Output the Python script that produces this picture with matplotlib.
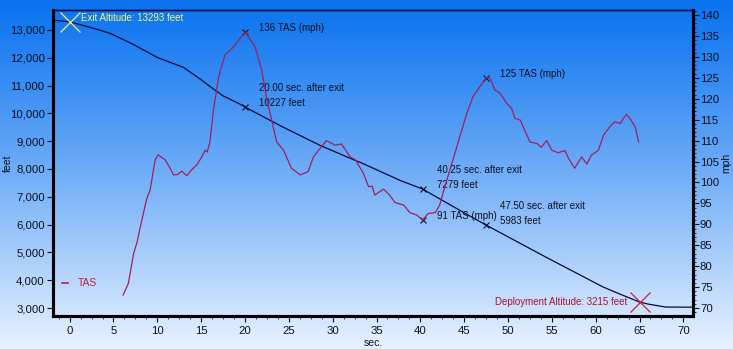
import numpy as np
import matplotlib
matplotlib.use("Agg")
import matplotlib.pyplot as plt
from matplotlib.ticker import MultipleLocator, FuncFormatter, AutoMinorLocator

plt.rcParams['font.family'] = ['Liberation Sans', 'DejaVu Sans']

# ---------------- data ----------------
alt_t = [-1.9, 0, 2.7, 4.6, 7.2, 10, 13, 14.9, 16.4, 17.5, 19.4, 20, 24, 28.6, 32.6,
         33.1, 37.7, 40.25, 44.5, 47.5, 54.4, 60.8, 62.4, 65, 66, 68, 71.1]
alt_ft = [13350, 13293, 13060, 12880, 12490, 12010, 11650, 11230, 10875, 10630, 10337,
          10227, 9560, 8842, 8305, 8244, 7588, 7279, 6513, 5983, 4817, 3763, 3548,
          3215, 3140, 3035, 3030]

tas_t = [6.1, 6.7, 7.3, 7.66, 8.23, 8.8, 9.18, 9.75, 10.1, 10.9, 11.46, 11.84, 12.3, 12.8,
         13.36, 13.9, 14.5, 15.07, 15.45, 15.7, 16.0, 16.4, 17.0, 17.7, 18.7, 20.0,
         21.15, 21.9, 22.5, 23.05, 23.6, 24.4, 25.3, 26.3, 27.2, 27.8, 28.4, 29.3, 30.3,
         31.0, 32.0, 32.6, 33.5, 34.1, 34.5, 34.8, 35.8, 36.5, 37.1, 38.1, 38.8, 39.6,
         40.25, 40.9, 41.7, 42.2, 42.8, 43.6, 44.5, 45.3, 46.0, 47.5, 47.95, 48.5, 49.1,
         49.85, 50.4, 50.8, 51.4, 51.9, 52.5, 53.3, 53.8, 54.4, 55.0, 55.7, 56.5, 56.9,
         57.6, 58.4, 59.0, 59.5, 60.3, 60.9, 61.6, 62.2, 62.8, 63.5, 63.9, 64.5, 64.9]
tas_mph = [73.1, 75.9, 83.1, 85.5, 91.0, 96.2, 98.2, 105.4, 106.6, 105.4, 103.4, 101.8,
           101.9, 102.7, 101.6, 103.0, 104.2, 106.1, 107.7, 107.3, 109.7, 117.3, 125.3,
           130.4, 132.4, 136.0, 132.4, 126.9, 119.7, 114.9, 109.7, 107.7, 103.4, 101.8,
           102.6, 106.1, 107.7, 110.0, 108.9, 109.2, 106.1, 105.4, 102.2, 99.0, 99.1,
           97.0, 98.4, 97.0, 95.2, 94.6, 92.8, 92.2, 91.0, 92.6, 92.8, 94.6, 99.0, 104.6,
           110.9, 116.5, 120.5, 125.0, 124.9, 122.1, 121.3, 118.9, 117.7, 115.3, 114.9,
           112.5, 109.7, 109.3, 108.4, 110.0, 107.7, 107.1, 107.6, 105.8, 103.4, 106.1,
           104.4, 106.5, 107.7, 111.3, 113.3, 114.5, 114.1, 116.3, 115.3, 113.3, 109.7]

exit_t, exit_alt = 0, 13293
deploy_t, deploy_alt = 65, 3215
alt_marks_t = [20.00, 40.25, 47.50]
alt_marks_ft = [10227, 7279, 5983]
tas_marks_t = [20.0, 40.25, 47.5]
tas_marks_mph = [136, 91, 125]

# ---------------- figure ----------------
W, H = 733, 349
fig = plt.figure(figsize=(W / 100, H / 100), dpi=100)

# background gradient
bg = fig.add_axes([0, 0, 1, 1], zorder=-10)
top = np.array([0.04, 0.45, 0.94])
bot = np.array([0.91, 0.95, 1.0])
g = np.linspace(0, 1, 256)[:, None] ** 1.1
img = top[None, :] * (1 - g) + bot[None, :] * g
bg.imshow(img[:, None, :], aspect='auto', extent=[0, 1, 0, 1])
bg.axis('off')

L, R, B, T = 53, 693, 316, 10
ax1 = fig.add_axes([L / W, 1 - B / H, (R - L) / W, (B - T) / H])
ax1.patch.set_alpha(0)
ax2 = ax1.twinx()
ax2.patch.set_alpha(0)

ax1.set_xlim(-1.9, 71.1)
ax1.set_ylim(2713, 13717)
ax2.set_ylim(68.1, 141.2)

navy = '#0a0a3a'
tas_col = '#a0205e'
ax1.plot(alt_t, alt_ft, color=navy, lw=0.9, zorder=3)
tas_line, = ax2.plot(tas_t, tas_mph, color=tas_col, lw=0.9, zorder=3)

# markers
ax1.plot(alt_marks_t, alt_marks_ft, ls='none', marker='x', ms=5, mew=0.8, color='#10102a')
ax2.plot(tas_marks_t, tas_marks_mph, ls='none', marker='x', ms=5, mew=0.8, color='#10102a')
ax1.plot([exit_t], [exit_alt], ls='none', marker='x', ms=15, mew=0.9, color='#e8f070', zorder=5)
ax1.plot([deploy_t], [deploy_alt], ls='none', marker='x', ms=15, mew=0.9, color='#c02038', zorder=5)

fs = 7
tc = '#101020'
def ann(ax, x, y, s, dx, dy, color=tc, ha='left'):
    ax.annotate(s, (x, y), xytext=(dx, -dy), textcoords='offset pixels',
                fontsize=fs, color=color, ha=ha, va='center')

ann(ax1, exit_t, exit_alt, f"Exit Altitude: {exit_alt} feet", 11, -4, color='#f0f878')
ann(ax1, deploy_t, deploy_alt, f"Deployment Altitude: {deploy_alt} feet", -12, 0,
    color='#b01030', ha='right')
for t, a in zip(alt_marks_t, alt_marks_ft):
    ann(ax1, t, a, f"{t:.2f} sec. after exit", 14, -19)
    ann(ax1, t, a, f"{a} feet", 14, -4)
for t, v in zip(tas_marks_t, tas_marks_mph):
    ann(ax2, t, v, f"{v} TAS (mph)", 14, -4)

# axes styling
for ax in (ax1, ax2):
    for side in ('left', 'bottom', 'right'):
        ax.spines[side].set_linewidth(2.2)
        ax.spines[side].set_color('#000000')
    ax.spines['top'].set_linewidth(1.0)
    ax.spines['top'].set_color('#0a0a40')

ax1.xaxis.set_major_locator(MultipleLocator(5))
ax1.xaxis.set_minor_locator(AutoMinorLocator(4))
ax1.yaxis.set_major_locator(MultipleLocator(1000))
ax1.yaxis.set_major_formatter(FuncFormatter(lambda v, p: f"{int(v):,}"))
ax2.yaxis.set_major_locator(MultipleLocator(5))
ax2.yaxis.set_minor_locator(MultipleLocator(1))

lfs = 8.2
ax1.tick_params(axis='x', which='major', length=4, width=0.8, pad=3, labelsize=lfs, colors='#101020')
ax1.tick_params(axis='x', which='minor', length=2.5, width=0.6, colors='#101020')
ax1.tick_params(axis='y', which='major', length=4, width=0.8, pad=2, labelsize=lfs, colors='#101020')
ax2.tick_params(axis='y', which='major', length=4, width=0.8, pad=1, labelsize=lfs, colors='#101020')
ax2.tick_params(axis='y', which='minor', length=2, width=0.6, colors='#101020')

ax1.set_xlabel("sec.", fontsize=7.5, color='#101020', labelpad=2)
ax1.set_ylabel("feet", fontsize=7.5, color='#101020')
ax2.set_ylabel("mph", fontsize=7.5, color='#101020')
ax1.yaxis.set_label_coords((13 - L) / (R - L), 0.5)
ax2.yaxis.set_label_coords((721 - L) / (R - L), 0.5)

leg = ax2.legend([tas_line], ["TAS"], loc='lower left', bbox_to_anchor=(0.0, 0.06),
                 frameon=False, handlelength=0.5, handletextpad=1.0, fontsize=7.5,
                 labelcolor='#c02040')
leg.get_lines()[0].set_color('#c02040')
leg.get_lines()[0].set_linewidth(1.2)

fig.savefig("out.png", dpi=100)
